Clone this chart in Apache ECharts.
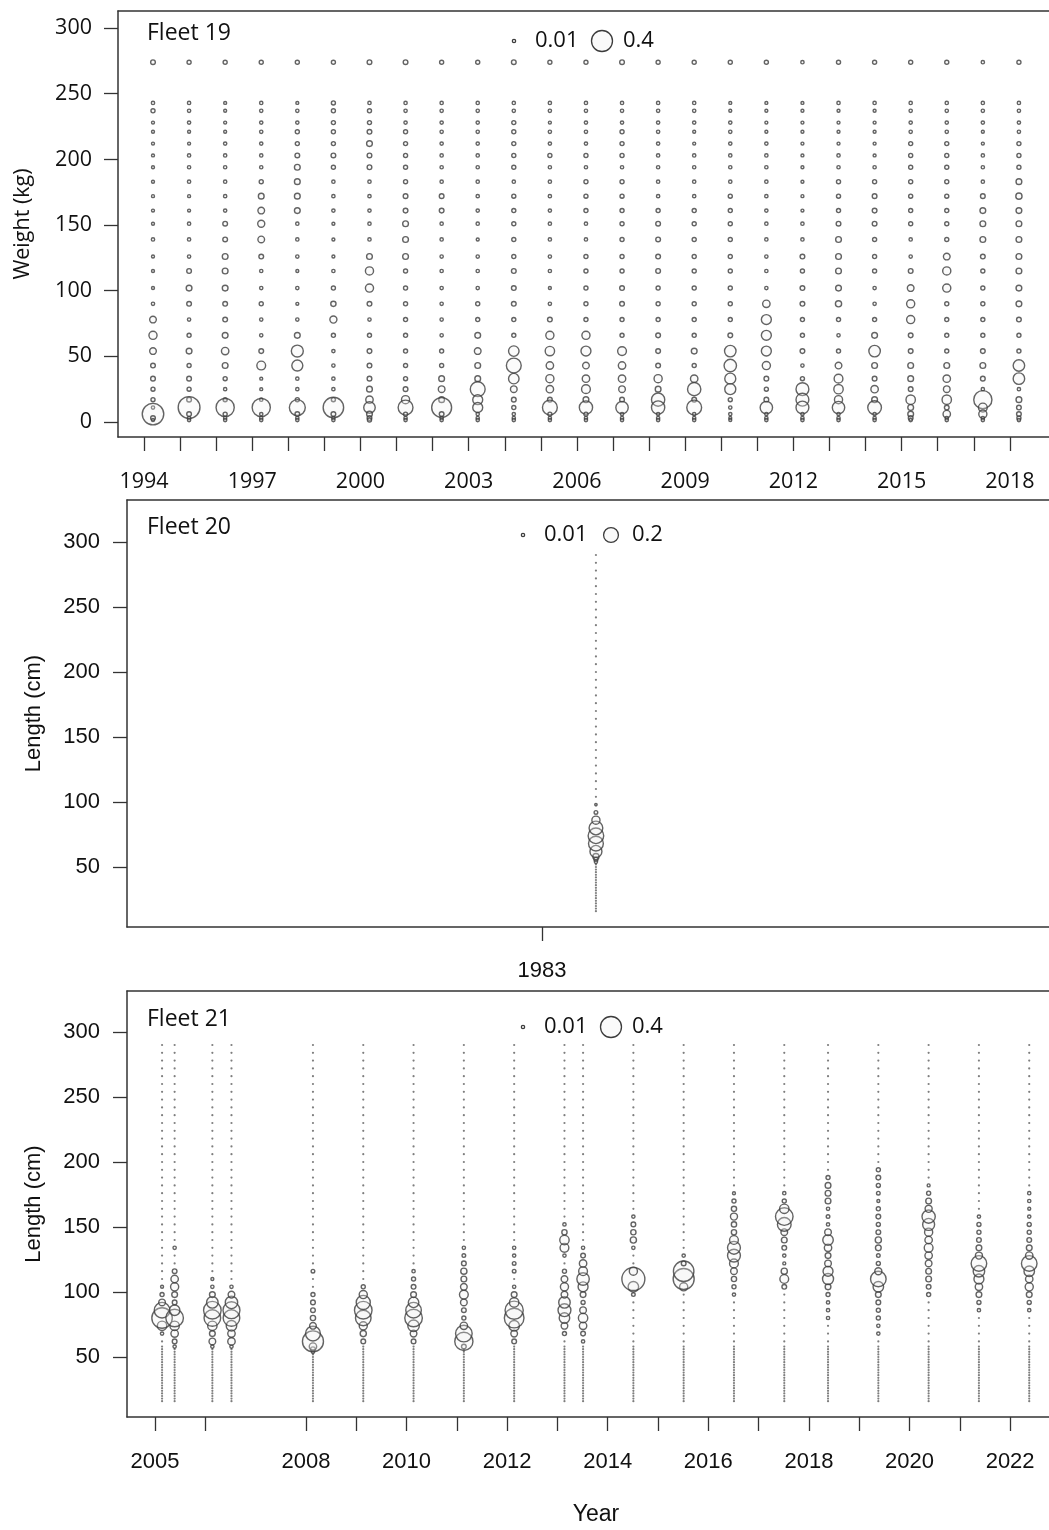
<!DOCTYPE html>
<html><head><meta charset="utf-8">
<script src="https://cdn.jsdelivr.net/npm/echarts/dist/echarts.min.js"></script>
<style>html,body{margin:0;padding:0;background:#fff}#c{width:1049px;height:1530px}</style>
</head><body><div id="c"></div><script>
// ---------- DATA ----------
// Fleet 19: weight composition (kg bins), proportion per bin
const weightBins = [274,243,237,228,221,212,203,194,183,172,161,151,139,126,115,102,90,78,66,54,43,33,25,17,11,6,3,1.5];
const fleet19Years = [1994,1995,1996,1997,1998,1999,2000,2001,2002,2003,2004,2005,2006,2007,2008,2009,2010,2011,2012,2013,2014,2015,2016,2017,2018];
const fleet19Season = 0.25;
const w1994 = [0.02,0.01,0.015,0.008,0.008,0.008,0.008, 0.008,0.008,0.008,0.008,0.008,0.01,0.008, 0.008,0.008,0.01,0.04,0.06,0.04,0.02, 0.02,0.015,0.015,0.01,0.42,0.02,0.008];
const w1995 = [0.015,0.01,0.01,0.01,0.008,0.008,0.01, 0.01,0.01,0.008,0.008,0.01,0.01,0.01, 0.02,0.03,0.02,0.01,0.015,0.03,0.015, 0.02,0.015,0.02,0.43,0.02,0.01,0.01];
const w1996 = [0.015,0.008,0.008,0.008,0.008,0.01,0.01, 0.01,0.01,0.01,0.01,0.02,0.02,0.03, 0.03,0.03,0.02,0.02,0.03,0.05,0.03, 0.015,0.01,0.015,0.3,0.015,0.01,0.01];
const w1997 = [0.015,0.01,0.01,0.01,0.01,0.01,0.01, 0.01,0.015,0.03,0.04,0.045,0.04,0.02, 0.01,0.01,0.015,0.01,0.01,0.02,0.07, 0.008,0.008,0.01,0.3,0.01,0.01,0.01];
const w1998 = [0.015,0.008,0.01,0.01,0.015,0.015,0.02, 0.03,0.03,0.03,0.03,0.01,0.01,0.01, 0.008,0.01,0.008,0.01,0.03,0.13,0.11, 0.01,0.01,0.015,0.23,0.02,0.01,0.01];
const w1999 = [0.015,0.015,0.015,0.015,0.015,0.015,0.02, 0.015,0.01,0.01,0.01,0.008,0.008,0.008, 0.01,0.015,0.025,0.045,0.015,0.01,0.01, 0.01,0.01,0.015,0.38,0.02,0.01,0.01];
const w2000 = [0.02,0.01,0.015,0.015,0.02,0.03,0.02, 0.02,0.01,0.01,0.01,0.01,0.01,0.03, 0.06,0.06,0.02,0.01,0.015,0.02,0.02, 0.02,0.03,0.05,0.12,0.03,0.02,0.015];
const w2001 = [0.02,0.01,0.01,0.01,0.015,0.015,0.015, 0.015,0.015,0.02,0.02,0.03,0.03,0.03, 0.015,0.015,0.015,0.015,0.015,0.015,0.015, 0.015,0.02,0.06,0.2,0.015,0.01,0.01];
const w2002 = [0.015,0.01,0.01,0.01,0.01,0.01,0.01, 0.01,0.01,0.02,0.02,0.01,0.01,0.01, 0.01,0.01,0.01,0.01,0.01,0.015,0.015, 0.03,0.04,0.03,0.36,0.02,0.01,0.01];
const w2003 = [0.015,0.01,0.01,0.01,0.01,0.01,0.01, 0.01,0.01,0.01,0.01,0.01,0.008,0.01, 0.01,0.01,0.015,0.015,0.03,0.04,0.03, 0.03,0.2,0.09,0.09,0.01,0.01,0.01];
const w2004 = [0.02,0.01,0.01,0.015,0.015,0.015,0.015, 0.015,0.01,0.015,0.015,0.015,0.015,0.015, 0.02,0.02,0.02,0.015,0.015,0.1,0.2, 0.1,0.04,0.02,0.015,0.01,0.01,0.01];
const w2005 = [0.015,0.01,0.01,0.008,0.01,0.01,0.015, 0.01,0.01,0.01,0.01,0.01,0.01,0.01, 0.01,0.008,0.01,0.02,0.06,0.08,0.05, 0.06,0.05,0.02,0.2,0.015,0.01,0.01];
const w2006 = [0.015,0.01,0.01,0.01,0.01,0.01,0.015, 0.01,0.015,0.015,0.015,0.01,0.01,0.015, 0.015,0.015,0.015,0.015,0.06,0.09,0.04, 0.05,0.07,0.03,0.16,0.015,0.01,0.01];
const w2007 = [0.02,0.01,0.01,0.01,0.015,0.015,0.015, 0.01,0.015,0.015,0.015,0.015,0.015,0.015, 0.015,0.02,0.02,0.015,0.015,0.07,0.05, 0.05,0.04,0.02,0.14,0.01,0.01,0.01];
const w2008 = [0.015,0.01,0.01,0.01,0.01,0.01,0.01, 0.01,0.01,0.01,0.015,0.02,0.02,0.02, 0.02,0.015,0.015,0.015,0.02,0.02,0.02, 0.06,0.03,0.16,0.16,0.01,0.01,0.01];
const w2009 = [0.015,0.01,0.01,0.01,0.008,0.008,0.01, 0.01,0.01,0.01,0.015,0.015,0.015,0.015, 0.015,0.015,0.015,0.015,0.015,0.03,0.015, 0.05,0.16,0.02,0.2,0.01,0.01,0.01];
const w2010 = [0.015,0.008,0.008,0.01,0.01,0.01,0.01, 0.01,0.01,0.015,0.015,0.015,0.015,0.015, 0.015,0.015,0.015,0.015,0.02,0.12,0.14, 0.11,0.11,0.015,0.01,0.01,0.008,0.008];
const w2011 = [0.015,0.008,0.008,0.008,0.008,0.01,0.01, 0.01,0.01,0.01,0.01,0.01,0.01,0.01, 0.01,0.01,0.05,0.09,0.09,0.09,0.06, 0.02,0.015,0.02,0.14,0.01,0.01,0.01];
const w2012 = [0.01,0.008,0.008,0.008,0.008,0.008,0.008, 0.008,0.008,0.008,0.008,0.01,0.01,0.02, 0.015,0.02,0.02,0.015,0.015,0.02,0.01, 0.015,0.15,0.15,0.15,0.01,0.01,0.01];
const w2013 = [0.015,0.01,0.008,0.008,0.008,0.008,0.01, 0.01,0.015,0.015,0.015,0.02,0.03,0.03, 0.03,0.03,0.035,0.015,0.01,0.015,0.04, 0.07,0.08,0.06,0.14,0.01,0.01,0.01];
const w2014 = [0.015,0.01,0.008,0.008,0.008,0.008,0.008, 0.01,0.015,0.02,0.02,0.02,0.015,0.015, 0.015,0.01,0.01,0.015,0.03,0.12,0.03, 0.02,0.05,0.03,0.17,0.01,0.01,0.01];
const w2015 = [0.015,0.01,0.01,0.01,0.01,0.015,0.015, 0.015,0.015,0.015,0.015,0.015,0.01,0.01, 0.02,0.04,0.06,0.06,0.02,0.02,0.03, 0.03,0.02,0.08,0.03,0.03,0.02,0.01];
const w2016 = [0.015,0.01,0.01,0.01,0.01,0.015,0.015, 0.015,0.015,0.015,0.015,0.015,0.015,0.04, 0.06,0.06,0.015,0.015,0.015,0.015,0.03, 0.05,0.04,0.08,0.02,0.05,0.01,0.01];
const w2017 = [0.01,0.01,0.01,0.01,0.008,0.008,0.01, 0.01,0.01,0.02,0.03,0.03,0.03,0.02, 0.015,0.015,0.015,0.015,0.015,0.02,0.03, 0.02,0.01,0.3,0.07,0.06,0.01,0.01];
const w2018 = [0.015,0.01,0.01,0.01,0.01,0.015,0.015, 0.015,0.03,0.035,0.03,0.03,0.03,0.03, 0.03,0.03,0.03,0.02,0.015,0.015,0.12, 0.12,0.01,0.03,0.02,0.02,0.015,0.01];
const fleet19Comps = [w1994,w1995,w1996,w1997,w1998,w1999,w2000,w2001,w2002,w2003,w2004,w2005,w2006,w2007,w2008,w2009,w2010,w2011,w2012,w2013,w2014,w2015,w2016,w2017,w2018];

// Length bins (cm) shared by Fleets 20 and 21
const lengthBins = [16,18,20,22,24,26,28,30,32,34,36,38,40,42,44,46,48,50,52,54,56,58,
  62,68,74,80,86,92,98,104,110,116,122,128,134,140,146,152,158,164,170,176,182,188,194,200,206,212,218,224,230,236,242,248,254,260,266,272,278,284,290];

// Fleet 20: one sample; [bin, proportion] (bins not listed are zero)
const fleet20Times = [1983.25];
const fleet20Comps = [
  [[98,0.005],[92,0.012],[86,0.06],[80,0.17],[74,0.22],[68,0.2],[62,0.13],[58,0.035],[56,0.015],[54,0.01]]
];

// Fleet 21: samples; [bin, proportion] (bins not listed are zero)
const fleet21Times = [2005.14,2005.39,2006.14,2006.52,2008.14,2009.14,2010.14,2011.14,2012.14,2013.14,2013.51,2014.51,2015.51,2016.51,2017.51,2018.38,2019.38,2020.38,2021.38,2022.38];
const fleet21Comps = [
  [[104,0.008],[98,0.015],[92,0.04],[86,0.22],[80,0.38],[74,0.08],[68,0.01]],
  [[134,0.01],[116,0.02],[110,0.05],[104,0.06],[98,0.03],[92,0.02],[86,0.1],[80,0.28],[74,0.08],[68,0.05],[62,0.02],[58,0.01]],
  [[110,0.008],[104,0.01],[98,0.03],[92,0.12],[86,0.28],[80,0.25],[74,0.08],[68,0.03],[62,0.04],[58,0.01]],
  [[104,0.01],[98,0.04],[92,0.14],[86,0.26],[80,0.25],[74,0.1],[68,0.05],[62,0.05],[58,0.01]],
  [[116,0.012],[98,0.015],[92,0.02],[86,0.02],[80,0.025],[74,0.04],[68,0.2],[62,0.4],[58,0.05],[56,0.02],[54,0.01]],
  [[104,0.015],[98,0.06],[92,0.18],[86,0.28],[80,0.22],[74,0.06],[68,0.035],[62,0.02]],
  [[116,0.01],[110,0.015],[104,0.02],[98,0.03],[92,0.1],[86,0.22],[80,0.28],[74,0.12],[68,0.04],[62,0.02]],
  [[134,0.01],[128,0.012],[122,0.02],[116,0.035],[110,0.03],[104,0.04],[98,0.07],[92,0.04],[86,0.02],[80,0.015],[74,0.05],[68,0.25],[62,0.3],[58,0.02]],
  [[134,0.01],[128,0.01],[122,0.012],[116,0.012],[104,0.01],[98,0.03],[92,0.08],[86,0.3],[80,0.35],[74,0.1],[68,0.04],[62,0.02]],
  [[152,0.01],[146,0.025],[140,0.08],[134,0.07],[128,0.01],[116,0.015],[110,0.04],[104,0.06],[98,0.04],[92,0.12],[86,0.15],[80,0.1],[74,0.04],[68,0.015]],
  [[134,0.01],[128,0.02],[122,0.05],[116,0.07],[110,0.14],[104,0.09],[98,0.03],[92,0.015],[86,0.04],[80,0.08],[74,0.05],[68,0.02],[62,0.01]],
  [[158,0.01],[152,0.02],[146,0.025],[140,0.035],[134,0.01],[116,0.06],[110,0.48],[104,0.1],[98,0.012]],
  [[128,0.01],[122,0.02],[116,0.38],[110,0.4],[104,0.06]],
  [[176,0.008],[170,0.015],[164,0.025],[158,0.045],[152,0.025],[146,0.025],[140,0.07],[134,0.15],[128,0.15],[122,0.07],[116,0.04],[110,0.025],[104,0.015],[98,0.01]],
  [[176,0.01],[170,0.015],[164,0.08],[158,0.28],[152,0.17],[146,0.04],[140,0.03],[134,0.02],[128,0.01],[122,0.008],[116,0.035],[110,0.07],[104,0.02]],
  [[188,0.015],[182,0.03],[176,0.03],[170,0.03],[164,0.01],[158,0.012],[152,0.01],[146,0.04],[140,0.1],[134,0.05],[128,0.03],[122,0.04],[116,0.09],[110,0.11],[104,0.03],[98,0.015],[92,0.01],[86,0.01],[80,0.01]],
  [[194,0.015],[188,0.02],[182,0.015],[176,0.012],[170,0.008],[164,0.015],[158,0.02],[152,0.015],[146,0.02],[140,0.035],[134,0.03],[128,0.012],[122,0.015],[116,0.045],[110,0.22],[104,0.1],[98,0.03],[92,0.02],[86,0.015],[80,0.015],[74,0.01],[68,0.01]],
  [[182,0.008],[176,0.015],[170,0.03],[164,0.045],[158,0.16],[152,0.13],[146,0.06],[140,0.05],[134,0.07],[128,0.05],[122,0.04],[116,0.03],[110,0.03],[104,0.02],[98,0.015]],
  [[158,0.01],[152,0.015],[146,0.015],[140,0.02],[134,0.03],[128,0.045],[122,0.22],[116,0.12],[110,0.09],[104,0.05],[98,0.03],[92,0.015],[86,0.01]],
  [[176,0.01],[170,0.01],[164,0.008],[158,0.01],[152,0.015],[146,0.015],[140,0.02],[134,0.03],[128,0.05],[122,0.22],[116,0.1],[110,0.05],[104,0.06],[98,0.03],[92,0.015],[86,0.01]]
];

// Tick labels
const fleet19YTicks = [0,50,100,150,200,250,300];
const lengthYTicks = [50,100,150,200,250,300];
const fleet19XTicks = fleet19Years;
const fleet19XLabels = [1994,1997,2000,2003,2006,2009,2012,2015,2018];
const fleet20XTicks = [1983];
const fleet21XTicks = [2005,2006,2008,2009,2010,2011,2012,2013,2014,2015,2016,2017,2018,2019,2020,2021,2022];
const fleet21XLabels = [2005,2008,2010,2012,2014,2016,2018,2020,2022];

// ---------- BUILD ----------
const sizeOf = v => 33.2 * Math.sqrt(v);
const f19pts = [];
fleet19Years.forEach((yr, i) => {
  weightBins.forEach((b, j) => f19pts.push([yr + fleet19Season, b, fleet19Comps[i][j]]));
});
function buildLen(times, comps) {
  const obs = [], zeros = [];
  times.forEach((t, i) => {
    const m = new Map(comps[i]);
    lengthBins.forEach(b => {
      if (m.has(b)) obs.push([t, b, m.get(b)]); else zeros.push([t, b, 0]);
    });
  });
  return {obs, zeros};
}
const f20 = buildLen(fleet20Times, fleet20Comps);
const f21 = buildLen(fleet21Times, fleet21Comps);

const SEGOE = '"Open Sans", "Noto Sans", sans-serif';
const ARIAL = '"Liberation Sans", Arial, sans-serif';
const STROKE = '#3c3c3c';
const bubbleStyle = {color: 'rgba(242,242,242,0.35)', borderColor: STROKE, borderWidth: 1.4};
const zeroStyle = {color: '#5e5e5e', borderWidth: 0};
const lineSt = {color: '#333', width: 1.5};
const plain = v => String(v);

function xAx(grid, min, max, ticks, labels, font, size, margin, extra) {
  return Object.assign({
    type: 'value', gridIndex: grid, min, max, position: 'bottom',
    axisLine: {show: true, onZero: false, lineStyle: lineSt}, splitLine: {show: false},
    axisTick: {show: true, customValues: ticks, length: 14, lineStyle: {color: '#333', width: 1.3}},
    axisLabel: {customValues: labels, formatter: plain, margin, color: '#111', fontFamily: font, fontSize: size}
  }, extra || {});
}
function topAx(grid, min, max) {
  return {type: 'value', gridIndex: grid, min, max, position: 'top',
    axisLine: {show: true, onZero: false, lineStyle: lineSt}, splitLine: {show: false},
    axisTick: {show: false}, axisLabel: {show: false}};
}
function yAx(grid, min, max, ticks, font, size, name, gap, margin) {
  return {
    type: 'value', gridIndex: grid, min, max, position: 'left',
    axisLine: {show: true, onZero: false, lineStyle: lineSt}, splitLine: {show: false},
    axisTick: {show: true, customValues: ticks, length: 14, lineStyle: {color: '#333', width: 1.3}},
    axisLabel: {customValues: ticks, formatter: plain, margin, color: '#111', fontFamily: font, fontSize: size},
    name, nameLocation: 'middle', nameRotate: 90, nameGap: gap,
    nameTextStyle: {fontFamily: font, fontSize: size, color: '#111'}
  };
}

// plot areas run to the right edge of the page (no right frame line)
const x0 = [1993.28, 1993.28 + 931/36.08];
const x1 = [1981.079, 1981.079 + 922/216];
const x2 = [2004.443, 2004.443 + 922/50.3];
const option = {
  animation: false,
  backgroundColor: '#fff',
  grid: [
    {left: 118, top: 11, right: 0, height: 426, show: false},
    {left: 127, top: 500, right: 0, height: 427, show: false},
    {left: 127, top: 991, right: 0, height: 426, show: false}
  ],
  xAxis: [
    xAx(0, x0[0], x0[1], fleet19XTicks, fleet19XLabels, SEGOE, 21.5, 34),
    xAx(1, x1[0], x1[1], fleet20XTicks, fleet20XTicks, ARIAL, 22, 33),
    xAx(2, x2[0], x2[1], fleet21XTicks, fleet21XLabels, ARIAL, 22, 34,
        {name: 'Year', nameLocation: 'middle', nameGap: 86,
         nameTextStyle: {fontFamily: ARIAL, fontSize: 23, color: '#111', padding: [0, 0, 0, 16]}}),
    topAx(0, x0[0], x0[1]), topAx(1, x1[0], x1[1]), topAx(2, x2[0], x2[1])
  ],
  yAxis: [
    yAx(0, -11.43, 313.0, fleet19YTicks, SEGOE, 21.5, 'Weight (kg)', 84, 26),
    yAx(1, 3.85, 3.85 + 427/1.3, lengthYTicks, ARIAL, 22, 'Length (cm)', 82, 27),
    yAx(2, 3.85, 3.85 + 426/1.3, lengthYTicks, ARIAL, 22, 'Length (cm)', 82, 27)
  ],
  series: [
    {type: 'scatter', xAxisIndex: 0, yAxisIndex: 0, data: f19pts, symbol: 'circle',
     symbolSize: d => sizeOf(d[2]), itemStyle: bubbleStyle, progressive: 0, silent: true},
    {type: 'scatter', xAxisIndex: 1, yAxisIndex: 1, data: f20.zeros, symbolSize: 2.2, itemStyle: zeroStyle, progressive: 0, silent: true},
    {type: 'scatter', xAxisIndex: 1, yAxisIndex: 1, data: f20.obs, symbolSize: d => sizeOf(d[2]), itemStyle: bubbleStyle, progressive: 0, silent: true},
    {type: 'scatter', xAxisIndex: 2, yAxisIndex: 2, data: f21.zeros, symbolSize: 2.2, itemStyle: zeroStyle, progressive: 0, silent: true},
    {type: 'scatter', xAxisIndex: 2, yAxisIndex: 2, data: f21.obs, symbolSize: d => sizeOf(d[2]), itemStyle: bubbleStyle, progressive: 0, silent: true}
  ],
  graphic: []
};

// Panel titles and bubble-size legends
function panelDecor(title, ty, lx, small, big) {
  const font = '22px ' + SEGOE;
  const cy = ty + 8;
  option.graphic.push(
    {type: 'text', style: {text: title, x: 147, y: ty, font: '23px ' + SEGOE, fill: '#111', verticalAlign: 'middle'}},
    {type: 'circle', shape: {cx: lx, cy, r: sizeOf(small) / 2}, style: {fill: 'rgba(242,242,242,0.35)', stroke: STROKE, lineWidth: 1.3}},
    {type: 'text', style: {text: String(small), x: lx + 21, y: cy, font, fill: '#111', verticalAlign: 'middle'}},
    {type: 'circle', shape: {cx: lx + 88, cy, r: sizeOf(big) / 2}, style: {fill: 'rgba(242,242,242,0.35)', stroke: STROKE, lineWidth: 1.3}},
    {type: 'text', style: {text: String(big), x: lx + 109, y: cy, font, fill: '#111', verticalAlign: 'middle'}}
  );
}
panelDecor('Fleet 19', 33, 514, 0.01, 0.4);
panelDecor('Fleet 20', 527, 523, 0.01, 0.2);
panelDecor('Fleet 21', 1019, 523, 0.01, 0.4);

const chart = echarts.init(document.getElementById('c'), null, {renderer: 'canvas'});
chart.setOption(option);
</script></body></html>
